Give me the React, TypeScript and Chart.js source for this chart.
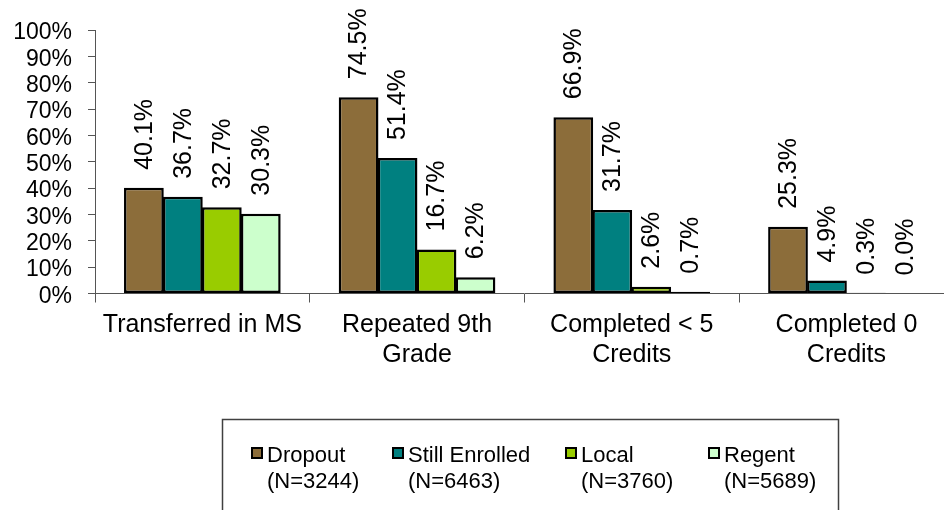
import React, { useEffect, useRef } from "react";
import { Chart, registerables } from "chart.js";

Chart.register(...registerables);

const categories: string[][] = [
  ["Transferred in MS"],
  ["Repeated 9th", "Grade"],
  ["Completed < 5", "Credits"],
  ["Completed 0", "Credits"],
];
const seriesNames = ["Dropout", "Still Enrolled", "Local", "Regent"];
const seriesCounts = ["(N=3244)", "(N=6463)", "(N=3760)", "(N=5689)"];
const dropout = [40.1, 74.5, 66.9, 25.3];
const stillEnrolled = [36.7, 51.4, 31.7, 4.9];
const local = [32.7, 16.7, 2.6, 0.3];
const regent = [30.3, 6.2, 0.7, 0.0];
const seriesColors = ["#8C6D3A", "#008080", "#99CC00", "#CCFFCC"];
const yMax = 100;
const yStep = 10;

const FONT = "'Liberation Sans', Arial, Helvetica, sans-serif";

const dataLabelPlugin = {
  id: "dataLabels",
  afterDatasetsDraw(chart: any) {
    const ctx = chart.ctx;
    ctx.save();
    ctx.font = `25px ${FONT}`;
    ctx.fillStyle = "#000";
    ctx.textAlign = "left";
    ctx.textBaseline = "middle";
    chart.data.datasets.forEach((ds: any, di: number) => {
      const meta = chart.getDatasetMeta(di);
      meta.data.forEach((bar: any, i: number) => {
        const v = ds.data[i];
        ctx.save();
        ctx.translate(bar.x + 1, bar.y - 18);
        ctx.rotate(-Math.PI / 2);
        ctx.fillText(v.toFixed(1) + "%", 0, 0);
        ctx.restore();
      });
    });
    ctx.restore();
  },
};

const legendPlugin = {
  id: "customLegend",
  afterDraw(chart: any) {
    const ctx = chart.ctx;
    ctx.save();
    ctx.strokeStyle = "#404040";
    ctx.lineWidth = 1.5;
    ctx.strokeRect(222.5, 419.5, 616, 120);
    const xs = [251, 392, 565, 708];
    ctx.font = `22px ${FONT}`;
    ctx.textAlign = "left";
    ctx.textBaseline = "alphabetic";
    seriesNames.forEach((name, i) => {
      const x = xs[i];
      ctx.fillStyle = seriesColors[i];
      ctx.fillRect(x, 447, 12, 12);
      ctx.strokeStyle = "#000";
      ctx.lineWidth = 2;
      ctx.strokeRect(x + 1, 448, 10, 10);
      ctx.fillStyle = "#000";
      ctx.fillText(name, x + 16, 462);
      ctx.fillText(seriesCounts[i], x + 16, 488);
    });
    ctx.restore();
  },
};

export default function App() {
  const ref = useRef<HTMLCanvasElement | null>(null);

  useEffect(() => {
    if (!ref.current) return;
    const seriesValues = [dropout, stillEnrolled, local, regent];
    const chart = new Chart(ref.current, {
      type: "bar",
      data: {
        labels: categories,
        datasets: seriesNames.map((name, i) => ({
          label: name,
          data: seriesValues[i],
          backgroundColor: seriesColors[i],
          borderColor: "#000",
          borderWidth: 2.5,
          borderSkipped: false,
          categoryPercentage: 0.726,
          barPercentage: 1.02,
        })),
      },
      options: {
        responsive: false,
        animation: false,
        devicePixelRatio: 1,
        layout: { padding: { left: 0, top: 30, right: 6.2, bottom: 0 } },
        plugins: {
          legend: { display: false },
          tooltip: { enabled: false },
        },
        scales: {
          x: {
            afterFit(scale: any) {
              scale.height = 216.5;
            },
            grid: {
              display: true,
              offset: true,
              drawOnChartArea: false,
              drawTicks: true,
              tickLength: 9,
              color: "#555",
            },
            border: { display: true, color: "#555", width: 1 },
            ticks: {
              color: "#000",
              font: { family: FONT, size: 25, lineHeight: 1.2 },
              padding: 8,
              maxRotation: 0,
              autoSkip: false,
            },
          },
          y: {
            min: 0,
            max: yMax,
            afterFit(scale: any) {
              scale.width = 95;
            },
            grid: {
              display: true,
              drawOnChartArea: false,
              drawTicks: true,
              tickLength: 7,
              color: "#555",
            },
            border: { display: true, color: "#555", width: 1 },
            ticks: {
              stepSize: yStep,
              autoSkip: false,
              color: "#000",
              font: { family: FONT, size: 23 },
              padding: 16,
              labelOffset: 3,
              callback: (v: any) => v + "%",
            },
          },
        },
      },
      plugins: [dataLabelPlugin, legendPlugin],
    });
    return () => chart.destroy();
  }, []);

  return (
    <div
      style={{
        position: "fixed",
        left: 0,
        top: 0,
        width: 944,
        height: 510,
        overflow: "hidden",
        background: "#fff",
      }}
    >
      <canvas ref={ref} width={960} height={510} style={{ width: 960, height: 510, display: "block" }} />
    </div>
  );
}
